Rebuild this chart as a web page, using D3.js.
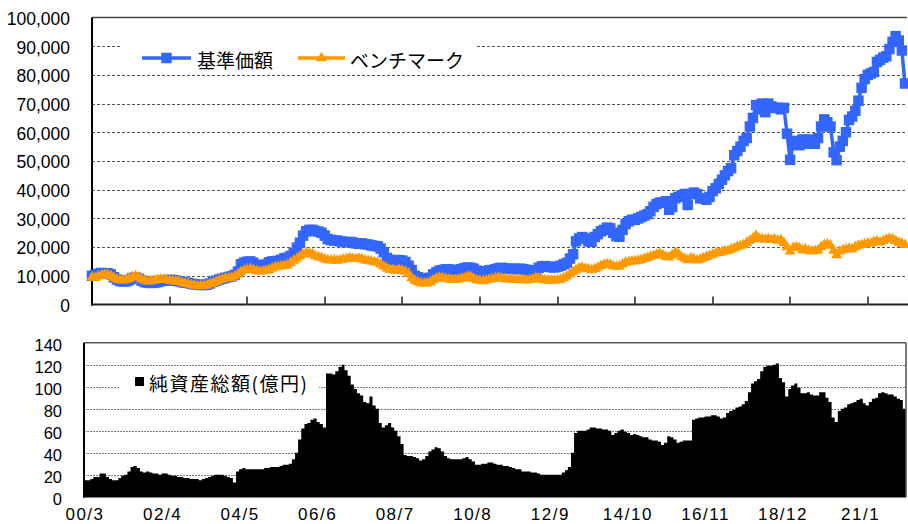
<!DOCTYPE html>
<html>
<head>
<meta charset="utf-8">
<script src="https://cdn.jsdelivr.net/npm/d3@7"></script>
<style>
  html, body { margin: 0; padding: 0; background: #fff; }
  svg { display: block; }
  .num { font-family: "Liberation Sans", Arial, sans-serif; fill: #000; }
  .jp { font-family: "Noto Sans CJK JP", sans-serif; fill: #000; }
</style>
</head>
<body>
<svg id="chart" width="908" height="524"></svg>
<script>
// Monthly series, first month = 2000/3
const firstMonth = new Date(2000, 2, 1);

// 基準価額 (円)
const navValues = [
  10000,10400,10700,11000,10800,10900,10500,9500,8700,8200,
  8000,8100,8500,9200,9400,9000,8300,7800,7600,7500,
  7600,7800,8100,8300,8400,8600,8500,8300,8100,7800,
  7600,7500,7200,7000,6900,6800,6800,6900,7300,7900,
  8300,8700,9000,9300,9600,9800,10300,11500,14000,14600,
  14900,15000,14500,13800,13300,13400,13900,14700,15000,15100,
  15200,15600,16100,16300,16900,18000,19800,21500,24000,25500,
  26000,26000,25600,25400,25000,24000,22800,22500,22300,22300,
  22000,21800,21700,21800,21600,21300,21200,21300,21000,20900,
  20600,20400,20300,19500,18200,16200,15500,15400,15500,15400,
  15300,14800,13500,12000,10000,9500,9200,9000,9100,9300,
  10500,11200,11800,12000,12300,12200,12000,11900,12000,12300,
  12600,12900,12800,12500,11800,11500,11400,11500,11900,12000,
  12300,12600,12800,12600,12400,12500,12400,12300,12500,12300,
  12100,11800,11500,11900,12800,13300,13400,13200,13000,12900,
  13200,13500,14000,14500,16000,17500,22000,23000,23500,23000,
  22000,21800,23500,24500,25500,26000,26800,26500,25000,23800,
  23600,26000,28000,29000,29500,29500,30000,30500,31000,31500,
  32500,34000,35000,35500,35500,36000,33000,34000,37000,37500,
  38000,38500,34700,38500,39000,38500,37000,37000,36500,37500,
  39500,40500,42000,43500,45000,46500,47500,52000,53500,55000,
  57000,58000,62000,65000,69500,68000,70000,67000,70000,69000,
  68500,68500,68000,68500,59500,50400,56000,57000,55500,57500,
  56000,57500,56500,56000,58000,62000,64500,63500,62000,53000,
  50300,55000,57000,60000,64300,65500,67500,71000,75500,78500,
  80000,80500,81000,84500,85200,86000,86500,89000,91500,93500,
  92000,88500,77000
];

// ベンチマーク
const benchValues = [
  9500,9300,9800,10200,10300,10400,10000,9300,8800,8500,
  8400,8600,9000,9600,9900,9500,8800,8300,8100,8200,
  8400,8700,8800,8700,8600,8300,8200,8100,8000,7600,
  7300,7100,6800,6600,6400,6400,6500,6700,7100,7500,
  7900,8400,8800,9100,9200,9400,9800,10500,11300,11900,
  12100,12300,12100,11700,11500,11600,11800,12000,12600,13000,
  13200,13400,13500,13700,14500,15300,16000,16800,17500,18000,
  17800,17600,16900,16500,16300,15800,15500,15400,15500,15300,
  15500,15700,15900,16200,16000,15900,16100,15800,15400,15200,
  15000,14800,14600,14000,13300,12600,12200,12000,11800,12200,
  11800,11500,10800,9200,8300,7800,7500,7300,7400,7800,
  8500,9100,9400,9200,9000,8800,8600,8600,8800,9000,
  9200,9700,9600,9000,8500,8300,8200,8400,8700,8900,
  9200,9400,9100,8900,8800,8700,8800,8600,8700,8500,
  8400,8600,8800,9300,9200,8700,8500,8400,8300,8400,
  8500,8700,9200,9800,10600,11300,12000,12700,12900,12500,
  12300,12000,12400,12900,13500,13900,14100,13800,13400,13200,
  13300,14000,14600,14900,15000,15100,15300,15600,16000,16300,
  16700,17000,17400,17700,17200,16600,16400,17200,18000,17600,
  16500,16000,15500,16200,15800,15400,15700,16200,16600,17000,
  17400,17800,18000,18300,18600,18700,19200,19600,20100,20400,
  20800,21500,22300,23000,24000,23000,22800,22600,22900,22500,
  22700,22300,22500,21500,20000,18500,19800,20000,19700,19000,
  19200,18800,18500,18700,18900,20000,20800,21000,20500,18800,
  17200,18500,19000,19200,19500,19300,20000,20500,20800,21000,
  21300,21200,21800,22000,21700,22200,22600,23000,22800,22200,
  21600,21200,20800
];

// 純資産総額 (億円)
const aumValues = [
  15,15,16,18,18,21,21,18,16,15,
  15,17,19,20,23,27,28,26,23,22,
  23,22,21,21,20,21,21,20,19,19,
  18,18,17,17,16,16,16,15,16,17,
  18,19,20,20,20,19,18,17,13,23,
  25,26,25,25,25,25,25,25,26,26,
  27,27,27,28,29,29,30,34,40,52,
  62,66,67,70,71,68,66,63,112,112,
  111,114,118,120,115,110,102,98,94,92,
  86,85,91,83,80,67,63,65,67,63,
  60,55,48,38,37,37,36,35,33,34,
  37,41,43,45,44,41,37,35,34,34,
  34,34,35,36,34,32,29,29,30,30,
  31,31,30,29,29,28,28,27,26,25,
  25,23,23,23,22,22,21,20,20,20,
  20,20,20,20,22,24,27,40,58,60,
  60,60,61,63,63,62,62,61,61,60,
  56,58,60,61,59,58,56,57,56,55,
  54,54,52,51,51,50,47,49,55,54,
  52,49,50,51,51,51,70,71,72,72,
  73,73,74,74,73,71,72,76,78,79,
  81,82,84,87,95,103,105,107,114,118,
  119,119,120,121,108,104,91,98,101,103,
  99,94,94,95,93,92,92,95,95,90,
  86,72,68,78,80,81,84,85,86,88,
  89,85,83,86,89,90,94,95,94,93,
  93,91,89,88,80,89
];

const xTickLabels = ["00/3","02/4","04/5","06/6","08/7","10/8","12/9","14/10","16/11","18/12","21/1"];
const topYTicks = [0,10000,20000,30000,40000,50000,60000,70000,80000,90000,100000];
const bottomYTicks = [0,20,40,60,80,100,120,140];
const seriesNames = ["基準価額","ベンチマーク"];
const aumName = "純資産総額(億円)";
const colors = { nav: "#3366FF", bench: "#FF9900", aum: "#000000" };

const monthOf = i => d3.timeMonth.offset(firstMonth, i);
const parseTick = s => { const [yy, mm] = s.split("/").map(Number); return new Date(2000 + yy, mm - 1, 1); };
const tickDates = xTickLabels.map(parseTick);

const navData = navValues.map((v, i) => ({ date: monthOf(i), v }));
const benchData = benchValues.map((v, i) => ({ date: monthOf(i), v }));
const aumData = aumValues.map((v, i) => ({ date: monthOf(i), v }));

const svg = d3.select("#chart");
const fmt = d3.format(",");

// ---------- upper panel: 基準価額 / ベンチマーク ----------
const upper = { left: 92, right: 907, top: 17.5, bottom: 304.5 };
const xTop = d3.scaleTime()
  .domain([firstMonth, navData[navData.length - 1].date])
  .range([upper.left, 905]);
const yTop = d3.scaleLinear().domain([0, 100000]).range([upper.bottom, upper.top]);

const gTop = svg.append("g");

// grid
gTop.append("g").selectAll("line").data(topYTicks.filter(d => d > 0 && d < 100000)).join("line")
  .attr("x1", upper.left).attr("x2", upper.right)
  .attr("y1", d => Math.round(yTop(d)) + 0.5).attr("y2", d => Math.round(yTop(d)) + 0.5)
  .attr("stroke", "#555").attr("stroke-width", 1).attr("stroke-dasharray", "3,2");
gTop.append("line")
  .attr("x1", upper.left).attr("x2", upper.right)
  .attr("y1", yTop(100000)).attr("y2", yTop(100000))
  .attr("stroke", "#444").attr("stroke-width", 1.5);

// y tick labels
gTop.append("g").selectAll("text").data(topYTicks).join("text")
  .attr("class", "num")
  .attr("x", 70).attr("y", d => yTop(d) + 1)
  .attr("dy", "0.36em")
  .attr("text-anchor", "end")
  .style("font-size", "17.5px")
  .text(d => fmt(d));

// axes
gTop.append("line")
  .attr("x1", upper.left).attr("x2", upper.left)
  .attr("y1", upper.top).attr("y2", upper.bottom + 1)
  .attr("stroke", "#000").attr("stroke-width", 2);
gTop.append("line")
  .attr("x1", upper.left - 1).attr("x2", 908)
  .attr("y1", upper.bottom).attr("y2", upper.bottom)
  .attr("stroke", "#222").attr("stroke-width", 2);
gTop.append("g").selectAll("line").data(tickDates).join("line")
  .attr("x1", d => Math.round(xTop(d))).attr("x2", d => Math.round(xTop(d)))
  .attr("y1", upper.bottom).attr("y2", upper.bottom - 8)
  .attr("stroke", (d, i) => i === 0 ? "#000" : "#555").attr("stroke-width", 2);

// series
const line = d3.line().x(d => xTop(d.date)).y(d => yTop(d.v));
const sq = d3.symbol(d3.symbolSquare, 110)();
const tri = d3.symbol(d3.symbolTriangle, 52)();

gTop.append("path").datum(navData)
  .attr("d", line).attr("fill", "none")
  .attr("stroke", colors.nav).attr("stroke-width", 3.5);
gTop.append("g").selectAll("path").data(navData).join("path")
  .attr("d", sq)
  .attr("transform", d => `translate(${xTop(d.date)},${yTop(d.v)})`)
  .attr("fill", colors.nav);

gTop.append("path").datum(benchData)
  .attr("d", line).attr("fill", "none")
  .attr("stroke", colors.bench).attr("stroke-width", 3.5);
gTop.append("g").selectAll("path").data(benchData).join("path")
  .attr("d", tri)
  .attr("transform", d => `translate(${xTop(d.date)},${yTop(d.v)})`)
  .attr("fill", colors.bench);

// legend
const lg = svg.append("g");
lg.append("rect").attr("x", 120).attr("y", 37).attr("width", 355).attr("height", 37).attr("fill", "#fff");
const legendItems = [
  { name: seriesNames[0], color: colors.nav, symbol: sq, x0: 142, x1: 191, tx: 197 },
  { name: seriesNames[1], color: colors.bench, symbol: tri, x0: 298, x1: 345, tx: 350 }
];
legendItems.forEach(it => {
  lg.append("line").attr("x1", it.x0).attr("x2", it.x1).attr("y1", 58).attr("y2", 58)
    .attr("stroke", it.color).attr("stroke-width", 3.5);
  lg.append("path").attr("d", it.symbol)
    .attr("transform", `translate(${(it.x0 + it.x1) / 2},58)`).attr("fill", it.color);
  lg.append("text").attr("class", "jp")
    .attr("x", it.tx).attr("y", 59).attr("dominant-baseline", "central")
    .style("font-size", "19px").text(it.name);
});

// ---------- lower panel: 純資産総額 ----------
const lower = { left: 84, right: 906, top: 342.7, bottom: 496.7 };
const xBot = d3.scaleTime()
  .domain([firstMonth, aumData[aumData.length - 1].date])
  .range([lower.left, lower.right]);
const yBot = d3.scaleLinear().domain([0, 140]).range([lower.bottom, lower.top]);

const gBot = svg.append("g");

gBot.append("g").selectAll("line").data(bottomYTicks.filter(d => d > 0 && d < 140)).join("line")
  .attr("x1", lower.left).attr("x2", lower.right)
  .attr("y1", d => Math.round(yBot(d)) + 0.5).attr("y2", d => Math.round(yBot(d)) + 0.5)
  .attr("stroke", "#777").attr("stroke-width", 1).attr("stroke-dasharray", "2,1");

const area = d3.area()
  .x(d => xBot(d.date))
  .y0(yBot(0))
  .y1(d => yBot(d.v))
  .curve(d3.curveStepAfter);
gBot.append("path").datum(aumData).attr("d", area).attr("fill", colors.aum);

// frame
gBot.append("line").attr("x1", lower.left).attr("x2", lower.right)
  .attr("y1", lower.top).attr("y2", lower.top).attr("stroke", "#555").attr("stroke-width", 1.5);
gBot.append("line").attr("x1", lower.right).attr("x2", lower.right)
  .attr("y1", lower.top).attr("y2", lower.bottom).attr("stroke", "#555").attr("stroke-width", 1.5);
gBot.append("line").attr("x1", lower.left).attr("x2", lower.left)
  .attr("y1", lower.top).attr("y2", lower.bottom + 1).attr("stroke", "#000").attr("stroke-width", 2);
gBot.append("line").attr("x1", lower.left).attr("x2", lower.right)
  .attr("y1", lower.bottom).attr("y2", lower.bottom).attr("stroke", "#000").attr("stroke-width", 1.5);

gBot.append("g").selectAll("text").data(bottomYTicks).join("text")
  .attr("class", "num")
  .attr("x", 62).attr("y", d => yBot(d) + 2)
  .attr("dy", "0.36em")
  .attr("text-anchor", "end")
  .style("font-size", "16.5px")
  .text(d => d);

gBot.append("g").selectAll("text").data(tickDates).join("text")
  .attr("class", "num")
  .attr("x", d => xBot(d) + 1).attr("y", 520)
  .attr("text-anchor", "middle")
  .style("font-size", "17px")
  .style("letter-spacing", "1.5px")
  .text((d, i) => xTickLabels[i]);

// legend
const lg2 = svg.append("g");
lg2.append("rect").attr("x", 120).attr("y", 371).attr("width", 199).attr("height", 30).attr("fill", "#fff");
lg2.append("rect").attr("x", 135).attr("y", 377).attr("width", 9).attr("height", 9).attr("fill", colors.aum);
lg2.append("text").attr("class", "jp")
  .attr("x", 149).attr("y", 382).attr("dominant-baseline", "central")
  .style("font-size", "19px")
  .style("letter-spacing", "1.5px")
  .text(aumName);
</script>
</body>
</html>
